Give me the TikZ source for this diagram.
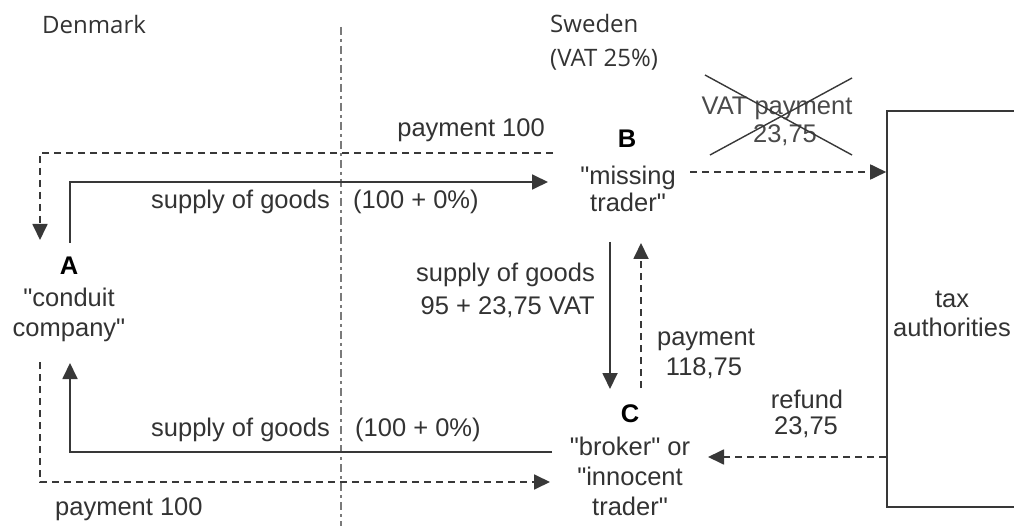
\documentclass[tikz,border=0pt]{standalone}
\usepackage{fontspec}
\setmainfont{Liberation Sans}
\newfontfamily\lblfont{Liberation Sans}
\newfontfamily\regionfont{Open Sans}
\usetikzlibrary{arrows.meta}
\definecolor{txt}{HTML}{333333}
\definecolor{ln}{HTML}{383838}
\definecolor{brd}{HTML}{7A7A7A}
\definecolor{crossed}{HTML}{4A4A4A}
\begin{document}
\begin{tikzpicture}[x=1pt,y=-1pt,
  lbl/.style={font=\lblfont\fontsize{25.5}{30}\selectfont, text=txt, inner sep=0pt, anchor=base},
  letter/.style={font=\lblfont\fontsize{25.5}{30}\selectfont\bfseries, text=black, inner sep=0pt, anchor=base},
  region/.style={font=\regionfont\fontsize{24}{28}\selectfont, text=txt, inner sep=0pt, anchor=base west},
  solidarrow/.style={draw=ln, line width=1.8pt, line join=miter, -{Triangle[length=16pt,width=15pt]}},
  dasharrow/.style={solidarrow, dash pattern=on 7pt off 5pt},
  border/.style={draw=brd, line width=1.6pt, dash pattern=on 8pt off 4pt on 3pt off 4pt},
  crossline/.style={draw=ln, line width=1.4pt},
  taxbox/.style={draw=ln, line width=1.6pt, minimum width=140pt, minimum height=396pt, inner sep=0pt}
]
\useasboundingbox (0,0) rectangle (1014,526);
\fill[white] (0,0) rectangle (1014,526);

% country border
\coordinate (bordertop) at (341,27);
\coordinate (borderbot) at (341,526);
\draw[border] (bordertop) -- (borderbot);

% region labels
\node[region] (dk) at (42,34) {Denmark};
\node[region] (se) at (550,33) {Sweden};
\node[region] (sevat) at (550,67) {(VAT 25\%)};

% entity A
\node[letter] (A) at (69,275) {A};
\node[lbl] (A1) at (69,307) {"conduit};
\node[lbl] (A2) at (69,337) {company"};

% entity B
\node[letter] (B) at (627,148) {B};
\node[lbl] (B1) at (628,185) {"missing};
\node[lbl] (B2) at (628,212) {trader"};

% entity C
\node[letter] (C) at (630,422) {C};
\node[lbl] (C1) at (630,455) {"broker" or};
\node[lbl] (C2) at (630,485) {"innocent};
\node[lbl] (C3) at (630,515) {trader"};

% tax authorities
\node[taxbox] (tax) at (957,309) {};
\node[lbl] (tax1) at (952,308) {tax};
\node[lbl] (tax2) at (952,337) {authorities};

% connector end points
\coordinate (Bpay) at (553,153);
\coordinate (Apayin) at (40,240);
\coordinate (Asup) at (70,243);
\coordinate (Bsupin) at (548,182);
\coordinate (Csup) at (552,452);
\coordinate (Asupin) at (70,363);
\coordinate (Apay) at (40,362);
\coordinate (Cpayin) at (550,482);
\coordinate (Bdown) at (610,242);
\coordinate (Cdownin) at (610,389);
\coordinate (Cup) at (641,388);
\coordinate (Bupin) at (641,243);
\coordinate (Bvat) at (690,172);
\coordinate (Crefin) at (708,457);

% connectors
\draw[dasharrow] (Bpay) -| (Apayin);
\draw[solidarrow] (Asup) |- (Bsupin);
\draw[solidarrow] (Csup) -| (Asupin);
\draw[dasharrow] (Apay) |- (Cpayin);
\draw[solidarrow] (Bdown) -- (Cdownin);
\draw[dasharrow] (Cup) -- (Bupin);
\draw[dasharrow] (Bvat) -- (tax.west |- Bvat);
\draw[dasharrow] (tax.west |- Crefin) -- (Crefin);

% connector labels
\node[lbl, anchor=base east] (s1) at (330,209) {supply of goods};
\node[lbl, anchor=base west] (s1v) at (353,209) {(100 + 0\%)};
\node[lbl, anchor=base east] (s2) at (330,436) {supply of goods};
\node[lbl, anchor=base west] (s2v) at (355,436) {(100 + 0\%)};
\node[lbl, anchor=base east] (p1) at (545,137) {payment 100};
\node[lbl, anchor=base west] (p2) at (55,515) {payment 100};
\node[lbl, anchor=base east] (s3) at (595,282) {supply of goods};
\node[lbl, anchor=base east] (s3v) at (595,315) {95 + 23,75 VAT};
\node[lbl] (p3) at (706,345) {payment};
\node[lbl] (p3v) at (704,375) {118,75};
\node[lbl] (r1) at (807,408) {refund};
\node[lbl] (r1v) at (806,434) {23,75};

% crossed-out VAT payment
\node[lbl, text=crossed] (v1) at (777,115) {VAT payment};
\node[lbl, text=crossed] (v1v) at (785,143) {23,75};
\coordinate (x1a) at (705,75);
\coordinate (x1b) at (852,155);
\coordinate (x2a) at (710,155);
\coordinate (x2b) at (852,78);
\draw[crossline] (x1a) -- (x1b);
\draw[crossline] (x2a) -- (x2b);
\end{tikzpicture}
\end{document}
